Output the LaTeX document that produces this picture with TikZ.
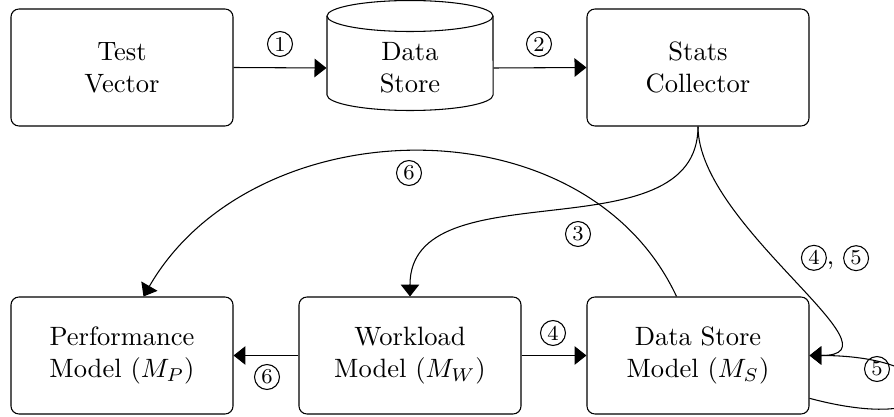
\documentclass[tikz,border=0pt]{standalone}
\usetikzlibrary{arrows.meta}

% circled step number
\newcommand{\cnum}[1]{\tikz[baseline=(n.base)]\node[draw,circle,line width=0.4pt,inner sep=0pt,minimum size=9.4pt,font=\footnotesize](n){#1};}

\begin{document}
\begin{tikzpicture}[x=0.377pt,y=-0.377pt,
  box/.style={draw,rounded corners=3pt,align=center,minimum width=83.7pt,minimum height=44.1pt,inner sep=0pt},
  arr/.style={-{Triangle[length=4.5pt,width=7pt]}},
  lbl/.style={inner sep=0pt}]
\useasboundingbox (0,0) rectangle (894,417);
\clip (0,0) rectangle (894,417);

% top row
\node[box] (tv) at (122,67.5) {Test\\Vector};
\node[align=center,minimum width=62.6pt,inner sep=0pt] (ds) at (410,68) {Data\\Store};
\draw (327,16) -- (327,95) arc[start angle=180,end angle=360,x radius=31.3pt,y radius=5.84pt] -- (493,16);
\draw (410,16) ellipse [x radius=31.3pt,y radius=5.84pt];
\node[box] (sc) at (698,67.5) {Stats\\Collector};

% bottom row
\node[box] (pm) at (122,355.5) {Performance\\Model ($M_P$)};
\node[box] (wm) at (410,355.5) {Workload\\Model ($M_W$)};
\node[box] (dsm) at (698,355.5) {Data Store\\Model ($M_S$)};

% connectors
\draw[arr] (tv.east) -- (ds.west);
\draw[arr] (ds.east) -- (sc.west);
\draw[arr] (sc.south) to[out=-90,in=90] (wm.north);
\draw[arr] (sc.south) to[out=-90,in=0] (dsm.east);
\draw[arr] (wm.west) -- (pm.east);
\draw[arr] (wm.east) -- (dsm.west);
\draw[arr] (dsm.110) to[out=115,in=60,looseness=1.05] (pm.70);
\draw[arr] (dsm.-21) .. controls +(150,40) and +(150,0) .. (dsm.east);

% step labels
\node[lbl] (s1) at (280,44) {\cnum{1}};
\node[lbl] (s2) at (539,44) {\cnum{2}};
\node[lbl] (s3) at (578,234) {\cnum{3}};
\node[lbl] (s45) at (835,258) {\cnum{4}, \cnum{5}};
\node[lbl] (s4) at (553,333) {\cnum{4}};
\node[lbl] (s6a) at (267,377) {\cnum{6}};
\node[lbl] (s6b) at (409,173) {\cnum{6}};
\node[lbl] (s5) at (877,369) {\cnum{5}};
\end{tikzpicture}
\end{document}
